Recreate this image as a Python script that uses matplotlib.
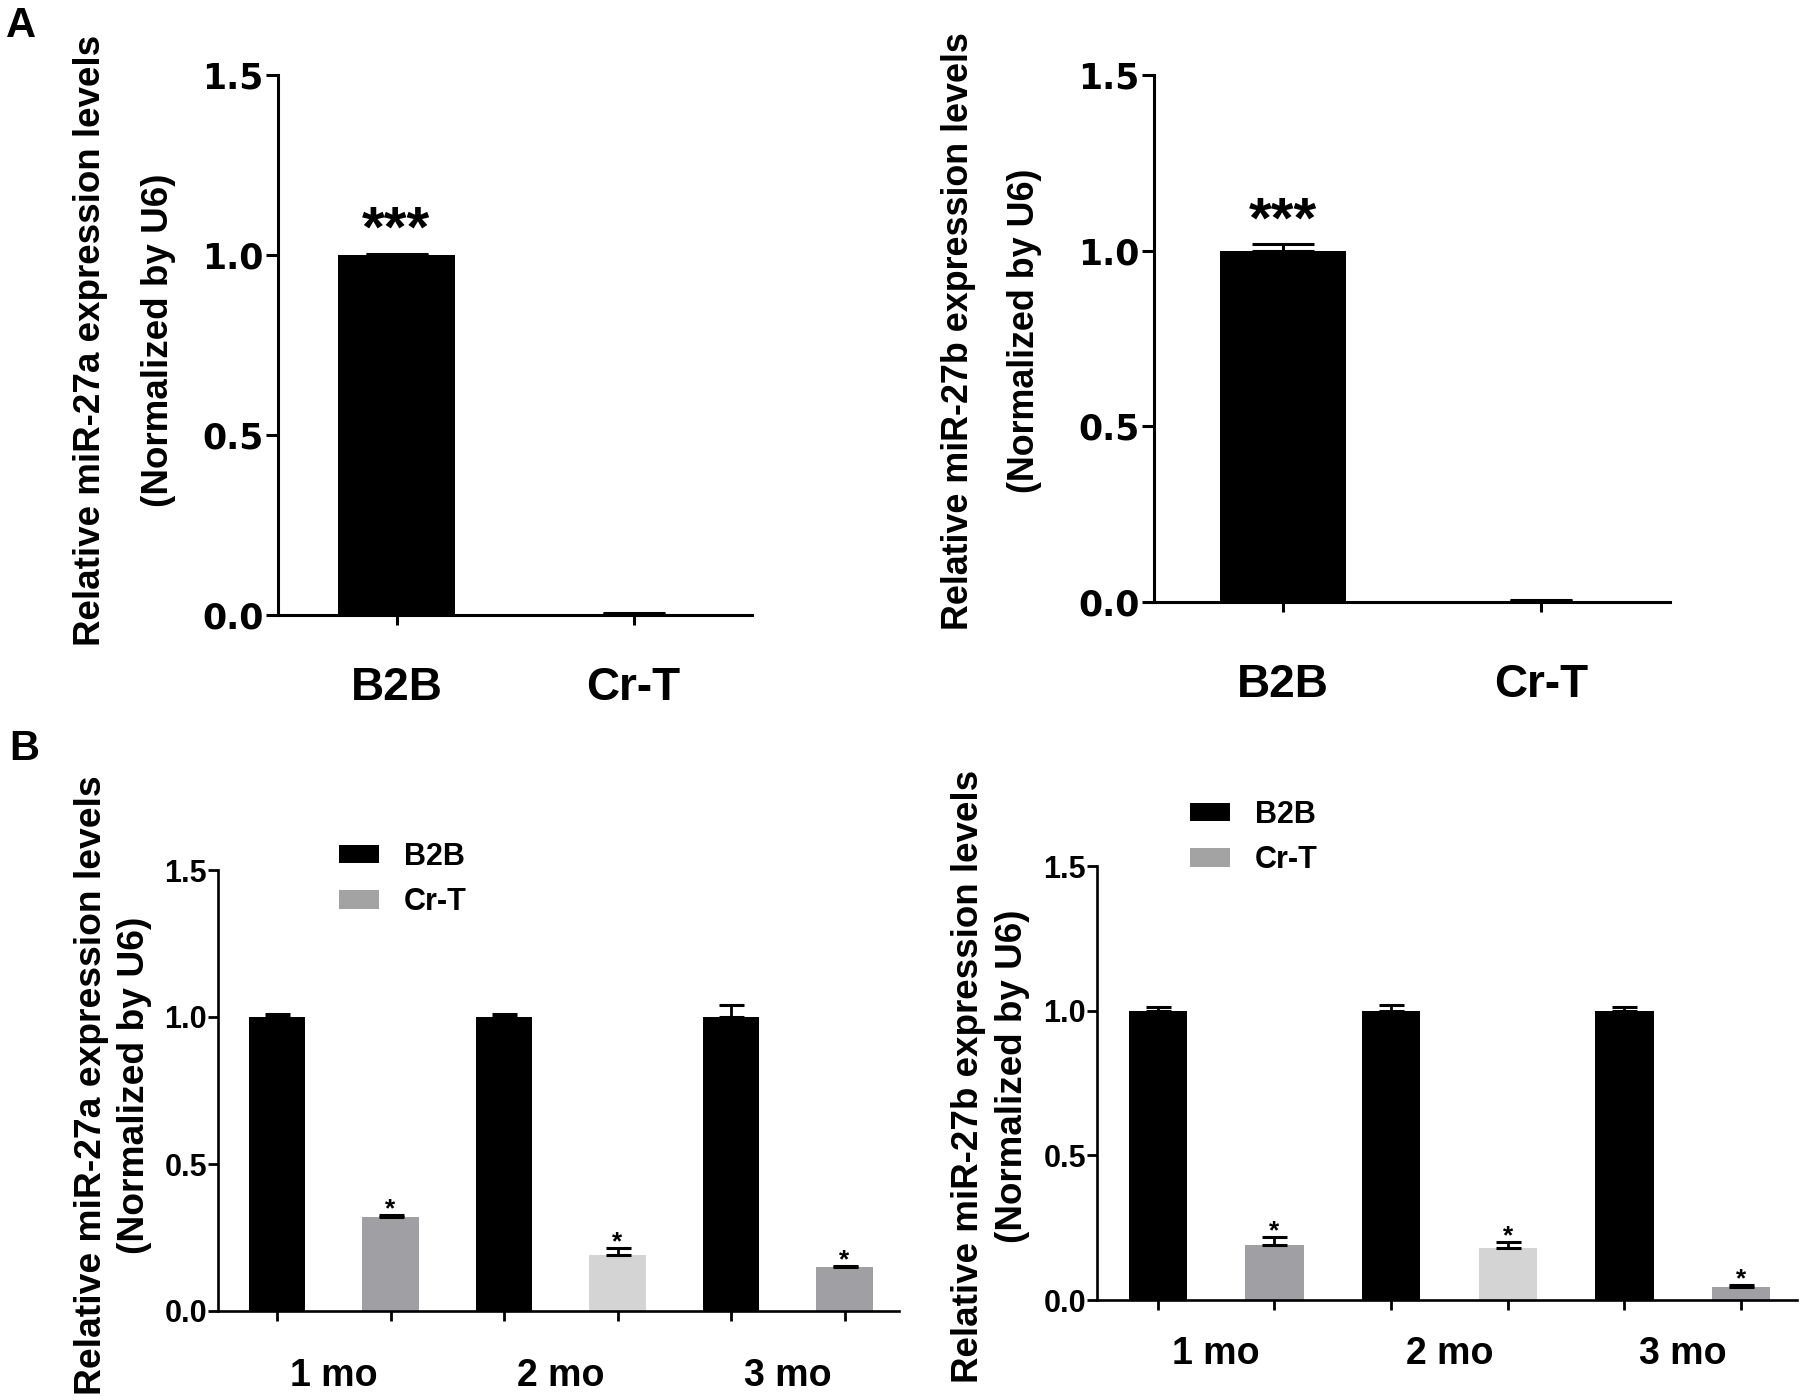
import numpy as np
import matplotlib
matplotlib.use('Agg')
import matplotlib.pyplot as plt
from matplotlib import font_manager
from matplotlib.font_manager import FontProperties
from matplotlib.patches import Patch

# data
groups_a = ['B2B', 'Cr-T']
a_27a = [1.0, 0.004]
a_27a_err = [0.004, 0.001]
a_27b = [1.0, 0.004]
a_27b_err = [0.018, 0.001]

months = ['1 mo', '2 mo', '3 mo']
b_27a_b2b = [1.0, 1.0, 1.0]
b_27a_b2b_err = [0.01, 0.01, 0.04]
b_27a_crt = [0.32, 0.19, 0.15]
b_27a_crt_err = [0.008, 0.025, 0.003]
b_27b_b2b = [1.0, 1.0, 1.0]
b_27b_b2b_err = [0.012, 0.018, 0.012]
b_27b_crt = [0.19, 0.18, 0.045]
b_27b_crt_err = [0.027, 0.02, 0.008]

crt_colors = ['#a09fa4', '#d4d4d4', '#a09fa4']

# look for a narrow bold face for the y labels (arial narrow look)
narrow_file = None
for f in font_manager.fontManager.ttflist:
    if f.name == 'Liberation Sans Narrow' and f.weight in (700, 'bold') and f.style == 'normal':
        narrow_file = f.fname
        break
if narrow_file is None:
    for f in font_manager.fontManager.ttflist:
        if f.name in ('Noto Sans', 'Open Sans', 'Roboto') and f.stretch in ('condensed', 'semi-condensed') \
                and f.weight in (700, 'bold') and f.style == 'normal':
            narrow_file = f.fname
            break

W, H = 1800, 1400
fig = plt.figure(figsize=(18, 14), dpi=100)
renderer = fig.canvas.get_renderer()


def lab_font(size):
    if narrow_file:
        return FontProperties(fname=narrow_file, size=size)
    return FontProperties(family='Liberation Sans', weight='bold', size=size)


def box(l, r, t, b):
    return [l / W, 1 - b / H, (r - l) / W, (b - t) / H]


def ylab(x1, x2, yc, line1, line2, length):
    t1 = fig.text(x1 / W, 1 - yc / H, line1, rotation=90, ha='center', va='center',
                  fontproperties=lab_font(30))
    # scale so the first line is as long as in the original
    h = t1.get_window_extent(renderer).height
    size = 30 * length / h
    t1.set_fontproperties(lab_font(size))
    fig.text(x2 / W, 1 - yc / H, line2, rotation=90, ha='center', va='center',
             fontproperties=lab_font(size))


def style(ax, lw):
    for s in ['top', 'right']:
        ax.spines[s].set_visible(False)
    for s in ['left', 'bottom']:
        ax.spines[s].set_linewidth(lw)
    ax.set_ylim(0, 1.5)
    ax.set_yticks([0, 0.5, 1.0, 1.5])
    ax.set_yticklabels(['0.0', '0.5', '1.0', '1.5'])


def panel_a(ax, vals, errs, xpad):
    x = np.arange(len(groups_a))
    ax.bar(x, vals, width=0.49, color='black')
    ax.errorbar(x, vals, yerr=[np.zeros(len(vals)), errs], fmt='none',
                ecolor='black', elinewidth=2.2, capsize=22, capthick=2.2)
    ax.set_xlim(-0.5, 1.5)
    style(ax, 2.2)
    ax.set_xticks(x)
    ax.set_xticklabels(groups_a, family='Liberation Sans', weight='bold', fontsize=33)
    ax.tick_params(axis='x', length=7, width=2.2, pad=xpad)
    ax.tick_params(axis='y', length=8.5, width=2.2, pad=2)
    for t in ax.get_yticklabels():
        t.set_family('DejaVu Sans')
        t.set_weight('bold')
        t.set_fontsize(25)
    ax.annotate('***', (0, vals[0] + errs[0]), xytext=(0, 5), textcoords='offset points',
                ha='center', va='baseline', family='Liberation Sans', weight='bold', fontsize=42)


def panel_b(ax, b2b, b2b_err, crt, crt_err, xpad, leg_xy):
    xb = np.arange(len(months)) * 2
    xc = xb + 1
    ax.bar(xb, b2b, width=0.5, color='black')
    ax.bar(xc, crt, width=0.5, color=crt_colors)
    ax.errorbar(xb, b2b, yerr=[np.zeros(3), b2b_err], fmt='none', ecolor='black',
                elinewidth=2, capsize=9, capthick=2.2)
    ax.errorbar(xc, crt, yerr=[np.zeros(3), crt_err], fmt='none', ecolor='black',
                elinewidth=2, capsize=9, capthick=2.2)
    for xi, v, e in zip(xc, crt, crt_err):
        ax.annotate('*', (xi, v + e), xytext=(0, -1), textcoords='offset points',
                    ha='center', va='baseline', family='Liberation Sans', weight='bold', fontsize=19)
    ax.set_xlim(-0.52, 5.48)
    style(ax, 1.9)
    ax.set_xticks(xb + 0.5)
    ax.set_xticklabels(months, family='Liberation Sans', weight='bold', fontsize=27)
    ax.set_xticks(np.concatenate([xb, xc]), minor=True)
    ax.tick_params(axis='x', which='major', length=0, pad=xpad)
    ax.tick_params(axis='x', which='minor', length=7, width=2)
    ax.tick_params(axis='y', length=7, width=2, pad=1)
    for t in ax.get_yticklabels():
        t.set_family('Liberation Sans')
        t.set_weight('bold')
        t.set_fontsize(22)
    handles = [Patch(facecolor='black', edgecolor='none'),
               Patch(facecolor='#a3a3a3', edgecolor='none')]
    fs = 22 * 100 / 72
    ax.legend(handles, ['B2B', 'Cr-T'], loc='upper left',
              bbox_to_anchor=(leg_xy[0] / W, 1 - leg_xy[1] / H), bbox_transform=fig.transFigure,
              frameon=False, borderpad=0, borderaxespad=0,
              handlelength=40 / fs, handleheight=17 / fs, handletextpad=25 / fs,
              labelspacing=0.5, prop={'family': 'Liberation Sans', 'weight': 'bold', 'size': 22})


ax1 = fig.add_axes(box(278, 752, 75, 615))
panel_a(ax1, a_27a, a_27a_err, 30)
ylab(91, 158, 340, 'Relative miR-27a expression levels', '(Normalized by U6)', 611)

ax2 = fig.add_axes(box(1154, 1670, 75, 602))
panel_a(ax2, a_27b, a_27b_err, 37)
ylab(958, 1025, 331, 'Relative miR-27b expression levels', '(Normalized by U6)', 599)

ax3 = fig.add_axes(box(218, 899, 870, 1311))
panel_b(ax3, b_27a_b2b, b_27a_b2b_err, b_27a_crt, b_27a_crt_err, 34, (339, 842))
ylab(92, 134, 1085, 'Relative miR-27a expression levels', '(Normalized by U6)', 620)

ax4 = fig.add_axes(box(1097, 1797, 866, 1300))
panel_b(ax4, b_27b_b2b, b_27b_b2b_err, b_27b_crt, b_27b_crt_err, 26, (1190, 800))
ylab(969, 1013, 1076, 'Relative miR-27b expression levels', '(Normalized by U6)', 614)

fig.text(6 / W, 1 - 6 / H, 'A', ha='left', va='top', family='Liberation Sans', weight='bold', fontsize=30)
fig.text(9 / W, 1 - 729 / H, 'B', ha='left', va='top', family='Liberation Sans', weight='bold', fontsize=30)

fig.savefig('out.png', dpi=100)
